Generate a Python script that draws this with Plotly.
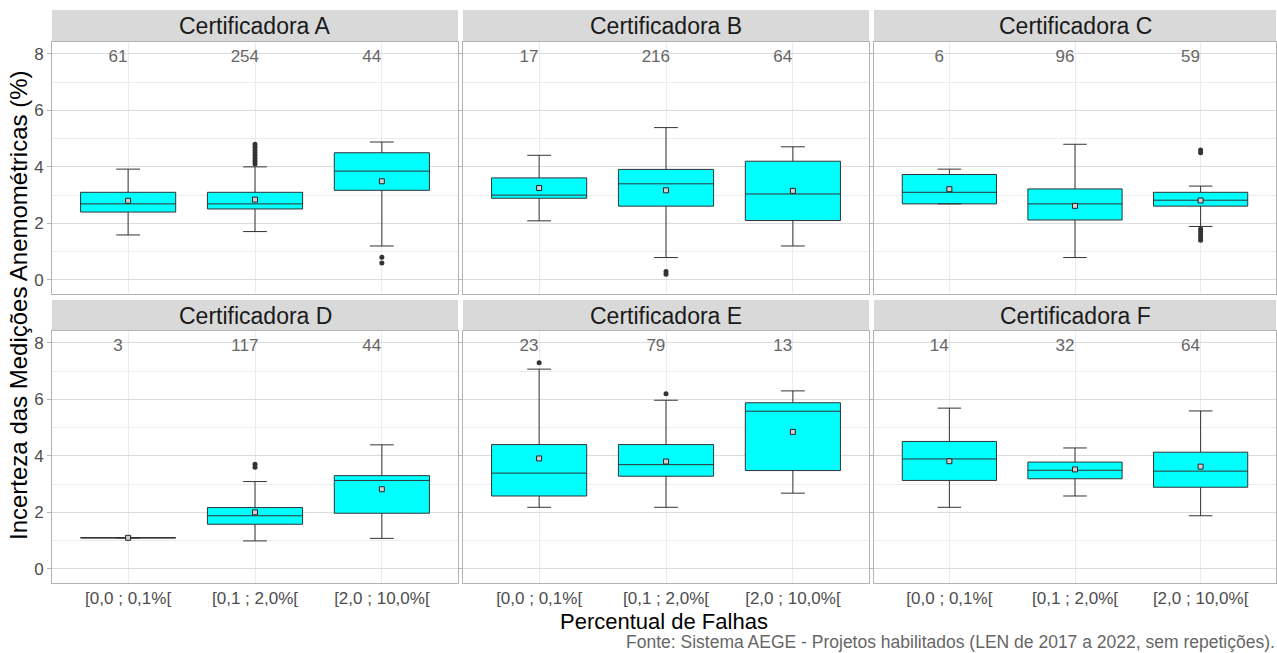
import plotly.graph_objects as go

# Faixas de percentual de falhas (eixo x) e certificadoras (painéis)
categorias = ["[0,0 ; 0,1%[", "[0,1 ; 2,0%[", "[2,0 ; 10,0%["]
certificadoras = ["Certificadora A", "Certificadora B", "Certificadora C",
                  "Certificadora D", "Certificadora E", "Certificadora F"]

# Estatísticas dos boxplots por certificadora (uma entrada por faixa)
q1 = {
    "A": [2.40, 2.51, 3.17], "B": [2.89, 2.61, 2.10], "C": [2.69, 2.12, 2.61],
    "D": [1.10, 1.58, 1.97], "E": [2.58, 3.28, 3.48], "F": [3.13, 3.19, 2.89],
}
mediana = {
    "A": [2.69, 2.69, 3.85], "B": [3.00, 3.40, 3.04], "C": [3.10, 2.69, 2.82],
    "D": [1.10, 1.88, 3.13], "E": [3.39, 3.69, 5.58], "F": [3.89, 3.49, 3.46],
}
q3 = {
    "A": [3.10, 3.10, 4.50], "B": [3.61, 3.91, 4.20], "C": [3.73, 3.22, 3.10],
    "D": [1.10, 2.17, 3.30], "E": [4.40, 4.40, 5.88], "F": [4.51, 3.78, 4.13],
}
lim_inf = {
    "A": [1.59, 1.71, 1.20], "B": [2.09, 0.79, 1.20], "C": [2.69, 0.79, 1.89],
    "D": [1.10, 0.99, 1.08], "E": [2.18, 2.18, 2.68], "F": [2.18, 2.58, 1.88],
}
lim_sup = {
    "A": [3.92, 4.00, 4.88], "B": [4.41, 5.39, 4.71], "C": [3.92, 4.80, 3.32],
    "D": [1.10, 3.09, 4.39], "E": [7.07, 5.97, 6.30], "F": [5.69, 4.28, 5.59],
}
media = {
    "A": [2.80, 2.84, 3.49], "B": [3.25, 3.17, 3.15], "C": [3.21, 2.62, 2.81],
    "D": [1.10, 2.00, 2.82], "E": [3.91, 3.80, 4.85], "F": [3.81, 3.52, 3.62],
}
n_projetos = {
    "A": [61, 254, 44], "B": [17, 216, 64], "C": [6, 96, 59],
    "D": [3, 117, 44], "E": [23, 79, 13], "F": [14, 32, 64],
}
# Valores discrepantes: (índice da faixa, valor)
outliers = {
    "A": [(1, 4.1), (1, 4.2), (1, 4.3), (1, 4.4), (1, 4.5), (1, 4.6), (1, 4.7),
          (1, 4.8), (2, 0.8), (2, 0.6)],
    "B": [(1, 0.3), (1, 0.2)],
    "C": [(2, 4.5), (2, 4.6), (2, 1.8), (2, 1.7), (2, 1.6), (2, 1.5), (2, 1.4)],
    "D": [(1, 3.6), (1, 3.7)],
    "E": [(0, 7.3), (1, 6.2)],
    "F": [],
}

W, H = 1277, 653
col_px = [(52, 458), (463, 869), (874, 1276)]
row_px = [(42, 294), (331, 583)]
strip_px = [(10, 42), (300, 331)]

fig = go.Figure()
xpos = [1, 2, 3]

for i, nome in enumerate(certificadoras):
    key = nome[-1]
    r, c = divmod(i, 3)
    ax = "" if i == 0 else str(i + 1)
    xa, ya = "x" + ax, "y" + ax

    fig.add_trace(go.Box(
        x=xpos, q1=q1[key], median=mediana[key], q3=q3[key],
        lowerfence=lim_inf[key], upperfence=lim_sup[key],
        width=0.75, whiskerwidth=0.25, boxpoints=False,
        fillcolor="#00FFFF", line=dict(color="#333333", width=1),
        xaxis=xa, yaxis=ya, showlegend=False, hoverinfo="skip",
    ))
    if outliers[key]:
        fig.add_trace(go.Scatter(
            x=[xpos[k] for k, _ in outliers[key]],
            y=[v for _, v in outliers[key]],
            mode="markers", marker=dict(color="#333333", size=5),
            xaxis=xa, yaxis=ya, showlegend=False, hoverinfo="skip",
        ))
    fig.add_trace(go.Scatter(
        x=xpos, y=media[key], mode="markers",
        marker=dict(symbol="square", size=5, color="#d0d0d0",
                    line=dict(color="#222222", width=1)),
        xaxis=xa, yaxis=ya, showlegend=False, hoverinfo="skip",
    ))
    fig.add_trace(go.Scatter(
        x=[p - 0.08 for p in xpos], y=[7.85] * 3,
        text=[str(n) for n in n_projetos[key]], mode="text",
        textfont=dict(color="#666666", size=17, family="Liberation Sans"),
        xaxis=xa, yaxis=ya, showlegend=False, hoverinfo="skip",
    ))

    x0, x1 = col_px[c]
    y0, y1 = row_px[r]
    fig.layout["xaxis" + ax] = dict(
        domain=[x0 / W, x1 / W], anchor=ya, range=[0.4, 3.6],
        tickvals=xpos, ticktext=categorias, showticklabels=(r == 1),
        showgrid=True, gridcolor="#ececec", gridwidth=1,
        ticks="", ticklabelstandoff=0,
        showline=True, mirror=True, linecolor="#b3b3b3", linewidth=1,
        zeroline=False, tickfont=dict(size=17, color="#4d4d4d"),
    )
    fig.layout["yaxis" + ax] = dict(
        domain=[(H - y1) / H, (H - y0) / H], anchor=xa, range=[-0.5, 8.42],
        tick0=0, dtick=2, showticklabels=(c == 0),
        showgrid=True, gridcolor="#dcdcdc", gridwidth=1,
        minor=dict(dtick=1, tick0=0, showgrid=True, gridcolor="#ececec",
                   gridwidth=1, ticklen=0),
        ticks="outside", ticklen=4, tickcolor="#b3b3b3",
        showline=True, mirror=True, linecolor="#b3b3b3", linewidth=1,
        zeroline=False, tickfont=dict(size=17, color="#4d4d4d"),
    )

    s0, s1 = strip_px[r]
    fig.add_shape(type="rect", xref="paper", yref="paper",
                  x0=x0 / W, x1=x1 / W, y0=(H - s1) / H, y1=(H - s0) / H,
                  fillcolor="#d9d9d9", line=dict(width=0), layer="below")
    fig.add_annotation(text=nome, xref="paper", yref="paper",
                       x=(x0 + x1) / 2 / W, y=(H - (s0 + s1) / 2) / H,
                       showarrow=False, font=dict(size=23, color="#1a1a1a"),
                       xanchor="center", yanchor="middle")

fig.add_annotation(text="Incerteza das Medições Anemométricas (%)",
                   xref="paper", yref="paper", x=18 / W, y=(H - 305) / H,
                   textangle=-90, showarrow=False,
                   font=dict(size=24, color="#000000"),
                   xanchor="center", yanchor="middle")
fig.add_annotation(text="Percentual de Falhas", xref="paper", yref="paper",
                   x=664 / W, y=(H - 621) / H, showarrow=False,
                   font=dict(size=22, color="#000000"),
                   xanchor="center", yanchor="middle")
fig.add_annotation(text="Fonte: Sistema AEGE - Projetos habilitados (LEN de 2017 a 2022, sem repetições).",
                   xref="paper", yref="paper", x=1, y=(H - 642) / H,
                   showarrow=False, font=dict(size=17.5, color="#666666"),
                   xanchor="right", yanchor="middle")

fig.update_layout(
    width=W, height=H, margin=dict(l=0, r=0, t=0, b=0),
    paper_bgcolor="white", plot_bgcolor="white",
    font=dict(family="Liberation Sans"),
)

fig.write_html("out.html")
